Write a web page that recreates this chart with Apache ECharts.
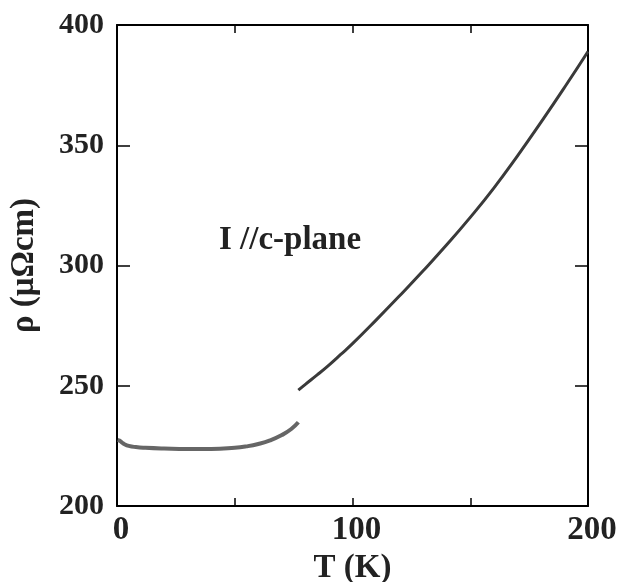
<!DOCTYPE html>
<html>
    <head>
        <meta charset="utf-8">
        <script src="https://cdn.jsdelivr.net/npm/echarts@6/dist/echarts.min.js"></script>
        <style type="text/css">
            #main {height:100%;width:100%;position:absolute;}
            body {margin:0px;padding:0px;overflow:hidden;background:#fff;}
        </style>
    </head>
    <body>
        <div id="main"></div>
        <script type="text/javascript">
            // low temperature branch (T in K, rho in micro-ohm cm)
            let tempLow = [0.3, 1, 2, 3, 5, 8, 12, 20, 30, 40, 50, 55, 60, 65, 70, 74, 77];
            let rhoLow  = [227.5, 227.2, 226.5, 225.8, 225, 224.5, 224.2, 223.9, 223.7, 223.7, 224.2, 224.8, 225.8, 227.3, 229.5, 232, 234.8];
            // high temperature branch
            let tempHigh = [77, 80, 85, 90, 95, 100, 110, 120, 130, 140, 150, 160, 170, 180, 190, 200];
            let rhoHigh  = [248.2, 250.6, 254.5, 258.6, 263, 267.5, 277.3, 287.4, 297.8, 308.6, 320, 332.2, 345.5, 359.5, 374, 389];
            let xLabels = [0, 100, 200];

            let font = '"Liberation Serif", "Times New Roman", serif';
            let pair = (xs, ys) => xs.map((x, i) => [x, ys[i]]);

            let myChart = echarts.init(document.getElementById('main'));
            // onZero off, otherwise both y axes sit on x = 0
            let axisLine = {show: true, onZero: false, lineStyle: {color: '#000', width: 2}};
            let option = {
                animation: false,
                grid: {left: 117, right: 34, top: 25, bottom: 76, outerBoundsMode: 'none'},
                xAxis: [
                    {
                        type: 'value', min: 0, max: 200, interval: 50,
                        name: 'T (K)', nameLocation: 'middle', nameGap: 42,
                        nameTextStyle: {fontFamily: font, fontWeight: 'bold', fontSize: 33, color: '#222'},
                        axisLine: axisLine,
                        axisTick: {inside: true, length: 8, lineStyle: {color: '#000', width: 1.5}},
                        axisLabel: {
                            fontFamily: font, fontWeight: 'bold', fontSize: 33, color: '#222', margin: 8,
                            padding: [0, 0, 0, 8],
                            formatter: v => xLabels.indexOf(v) >= 0 ? String(v) : ''
                        },
                        splitLine: {show: false}
                    },
                    {
                        type: 'value', min: 0, max: 200, interval: 50, position: 'top',
                        axisLine: axisLine,
                        axisTick: {inside: true, length: 8, lineStyle: {color: '#000', width: 1.5}},
                        axisLabel: {show: false}, splitLine: {show: false}
                    }
                ],
                yAxis: [
                    {
                        type: 'value', min: 200, max: 400, interval: 50,
                        name: 'ρ (μΩcm)', nameLocation: 'middle', nameGap: 76, nameRotate: 90,
                        nameTextStyle: {fontFamily: font, fontWeight: 'bold', fontSize: 33, color: '#222'},
                        axisLine: axisLine,
                        axisTick: {inside: true, length: 13, lineStyle: {color: '#000', width: 1.5}},
                        axisLabel: {fontFamily: font, fontWeight: 'bold', fontSize: 30, color: '#222', margin: 13},
                        splitLine: {show: false}
                    },
                    {
                        type: 'value', min: 200, max: 400, interval: 50, position: 'right',
                        axisLine: axisLine,
                        axisTick: {inside: true, length: 13, lineStyle: {color: '#000', width: 1.5}},
                        axisLabel: {show: false}, splitLine: {show: false}
                    }
                ],
                graphic: [
                    {
                        type: 'text', left: 219, top: 224,
                        style: {text: 'I //c-plane', font: 'bold 33px ' + font, fill: '#222'}
                    }
                ],
                series: [
                    {
                        type: 'line', smooth: true, symbol: 'none',
                        data: pair(tempLow, rhoLow),
                        lineStyle: {color: '#666', width: 4}
                    },
                    {
                        type: 'line', smooth: true, symbol: 'none',
                        data: pair(tempHigh, rhoHigh),
                        lineStyle: {color: '#3a3a3a', width: 3}
                    }
                ]
            };
            myChart.setOption(option);
            window.onresize = myChart.resize;
        </script>
    </body>
</html>
